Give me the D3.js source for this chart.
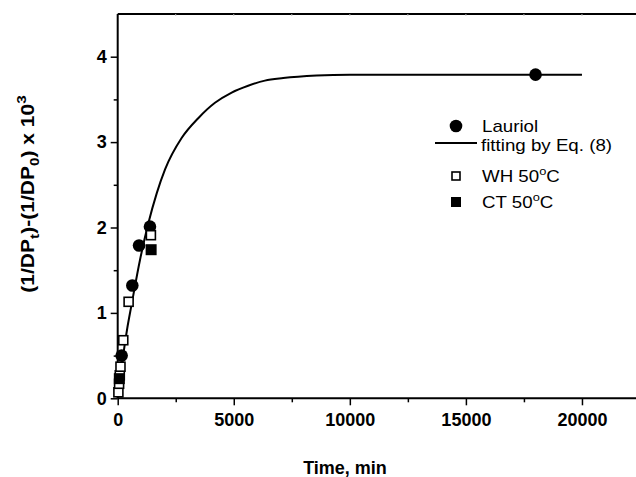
<!DOCTYPE html>
<html>
<head>
<meta charset="utf-8">
<script src="https://cdn.jsdelivr.net/npm/d3@7"></script>
<style>
  body { margin: 0; background: #fff; }
  svg { display: block; font-family: "Liberation Sans", Arial, sans-serif; }
</style>
</head>
<body>
<svg id="chart" width="636" height="477"></svg>
<script>
// Lauriol data (filled circles)
var lauriolTime = [170, 630, 920, 1390, 18000];
var lauriolValue = [0.50, 1.32, 1.79, 2.01, 3.79];

// WH 50oC (open squares)
var whTime = [30, 60, 90, 120, 240, 470, 1430];
var whValue = [0.07, 0.17, 0.27, 0.37, 0.68, 1.13, 1.91];

// CT 50oC (filled squares)
var ctTime = [70, 1440];
var ctValue = [0.23, 1.74];

// fitted curve
var fitTime = [0, 200, 400, 600, 960, 1320, 1680, 2040, 2760, 3470, 4190, 4910, 5620, 6340, 7130, 8570, 10000, 12000, 15000, 20000];
var fitValue = [0, 0.43, 0.80, 1.10, 1.62, 2.05, 2.40, 2.68, 3.05, 3.28, 3.46, 3.58, 3.66, 3.72, 3.75, 3.78, 3.79, 3.79, 3.79, 3.79];

var xTicks = [0, 5000, 10000, 15000, 20000];
var yTicks = [0, 1, 2, 3, 4];
var legendLabels = ['Lauriol', 'fitting by Eq. (8)', 'WH 50', 'CT 50'];

var svg = d3.select('#chart');

var x = d3.scaleLinear().domain([0, 22500]).range([117.7, 640]);
var y = d3.scaleLinear().domain([0, 4.5]).range([398.3, 14]);

var BOLD = 'bold';
var STRETCH = 1.17; // the reference text is a bit wider than Arial

// top frame line with small inner ticks
svg.append('line')
  .attr('x1', x(0)).attr('x2', 640)
  .attr('y1', y(4.5)).attr('y2', y(4.5))
  .attr('stroke', '#000').attr('stroke-width', 2);

svg.append('g').selectAll('line')
  .data(d3.range(2500, 22500, 2500))
  .enter().append('line')
  .attr('x1', function (d) { return x(d); })
  .attr('x2', function (d) { return x(d); })
  .attr('y1', y(4.5)).attr('y2', y(4.5) + 2)
  .attr('stroke', '#bbb').attr('stroke-width', 1);

// x axis
var xAxis = d3.axisBottom(x).tickValues(xTicks).tickSize(7).tickPadding(8)
  .tickFormat(d3.format('d'));
var gx = svg.append('g')
  .attr('transform', 'translate(0,' + y(0) + ')')
  .call(xAxis);
gx.select('.domain').attr('stroke-width', 2).attr('d', 'M' + x(0) + ',0H640');
gx.selectAll('.tick line').attr('stroke-width', 1.5);
gx.selectAll('.tick text')
  .attr('font-size', 18).attr('font-weight', BOLD)
  .attr('font-family', '"Liberation Sans", Arial, sans-serif');

var gxm = svg.append('g')
  .attr('transform', 'translate(0,' + y(0) + ')')
  .call(d3.axisBottom(x).tickValues([2500, 7500, 12500, 17500, 22500]).tickSize(4).tickFormat(''));
gxm.select('.domain').remove();
gxm.selectAll('.tick line').attr('stroke-width', 1.5);

// y axis
var yAxis = d3.axisLeft(y).tickValues(yTicks).tickSize(7).tickPadding(4)
  .tickFormat(d3.format('d'));
var gy = svg.append('g')
  .attr('transform', 'translate(' + x(0) + ',0)')
  .call(yAxis);
gy.select('.domain').attr('stroke-width', 2).attr('d', 'M0,' + y(0) + 'V' + y(4.5));
gy.selectAll('.tick line').attr('stroke-width', 1.5);
gy.selectAll('.tick text')
  .attr('font-size', 18).attr('font-weight', BOLD)
  .attr('font-family', '"Liberation Sans", Arial, sans-serif');

var gym = svg.append('g')
  .attr('transform', 'translate(' + x(0) + ',0)')
  .call(d3.axisLeft(y).tickValues([0.5, 1.5, 2.5, 3.5]).tickSize(4).tickFormat(''));
gym.select('.domain').remove();
gym.selectAll('.tick line').attr('stroke-width', 1.5);

// axis titles
svg.append('text')
  .attr('x', 345).attr('y', 474)
  .attr('text-anchor', 'middle')
  .attr('font-size', 18).attr('font-weight', BOLD)
  .text('Time, min');

var yt = svg.append('text')
  .attr('transform', 'translate(34,194) rotate(-90) scale(' + STRETCH + ',1)')
  .attr('text-anchor', 'middle')
  .attr('font-size', 18).attr('font-weight', BOLD);
yt.append('tspan').text('(1/DP');
yt.append('tspan').attr('font-size', 13).attr('dy', 5).text('t');
yt.append('tspan').attr('dy', -5).text(')-(1/DP');
yt.append('tspan').attr('font-size', 13).attr('dy', 5).text('0');
yt.append('tspan').attr('dy', -5).text(') x 10');
yt.append('tspan').attr('font-size', 13).attr('dy', -8).text('3');

// fitted curve
var fitData = fitTime.map(function (t, i) { return { t: t, v: fitValue[i] }; });
var line = d3.line()
  .x(function (d) { return x(d.t); })
  .y(function (d) { return y(d.v); })
  .curve(d3.curveMonotoneX);
svg.append('path')
  .datum(fitData)
  .attr('d', line)
  .attr('fill', 'none')
  .attr('stroke', '#000')
  .attr('stroke-width', 2);

// Lauriol points
svg.append('g').selectAll('circle')
  .data(lauriolTime)
  .enter().append('circle')
  .attr('cx', function (d) { return x(d); })
  .attr('cy', function (d, i) { return y(lauriolValue[i]); })
  .attr('r', 6.3)
  .attr('fill', '#000');

// WH points
var SQ = 9;
svg.append('g').selectAll('rect')
  .data(whTime)
  .enter().append('rect')
  .attr('x', function (d) { return x(d) - SQ / 2; })
  .attr('y', function (d, i) { return y(whValue[i]) - SQ / 2; })
  .attr('width', SQ).attr('height', SQ)
  .attr('fill', '#fff').attr('stroke', '#000').attr('stroke-width', 1.6);

// CT points
svg.append('g').selectAll('rect')
  .data(ctTime)
  .enter().append('rect')
  .attr('x', function (d) { return x(d) - 5.5; })
  .attr('y', function (d, i) { return y(ctValue[i]) - 5.5; })
  .attr('width', 11).attr('height', 11)
  .attr('fill', '#000');

// legend
function legendText(xx, yy) {
  return lg.append('text')
    .attr('transform', 'translate(' + xx + ',' + yy + ') scale(' + STRETCH + ',1)');
}
var lg = svg.append('g').attr('font-size', 16);
lg.append('circle').attr('cx', 456).attr('cy', 126).attr('r', 6.3).attr('fill', '#000');
legendText(482, 132).text(legendLabels[0]);
lg.append('line').attr('x1', 435).attr('x2', 477).attr('y1', 143).attr('y2', 143)
  .attr('stroke', '#000').attr('stroke-width', 2);
legendText(481, 151).text(legendLabels[1]);
lg.append('rect').attr('x', 456 - 4).attr('y', 176 - 4).attr('width', 8).attr('height', 8)
  .attr('fill', '#fff').attr('stroke', '#000').attr('stroke-width', 1.6);
var t3 = legendText(482, 182);
t3.append('tspan').text(legendLabels[2]);
t3.append('tspan').attr('font-size', 11).attr('dy', -7).text('o');
t3.append('tspan').attr('dy', 7).text('C');
lg.append('rect').attr('x', 456 - 5).attr('y', 202 - 5).attr('width', 10).attr('height', 10)
  .attr('fill', '#000');
var t4 = legendText(482, 208);
t4.append('tspan').text(legendLabels[3]);
t4.append('tspan').attr('font-size', 11).attr('dy', -7).text('o');
t4.append('tspan').attr('dy', 7).text('C');
</script>
</body>
</html>
